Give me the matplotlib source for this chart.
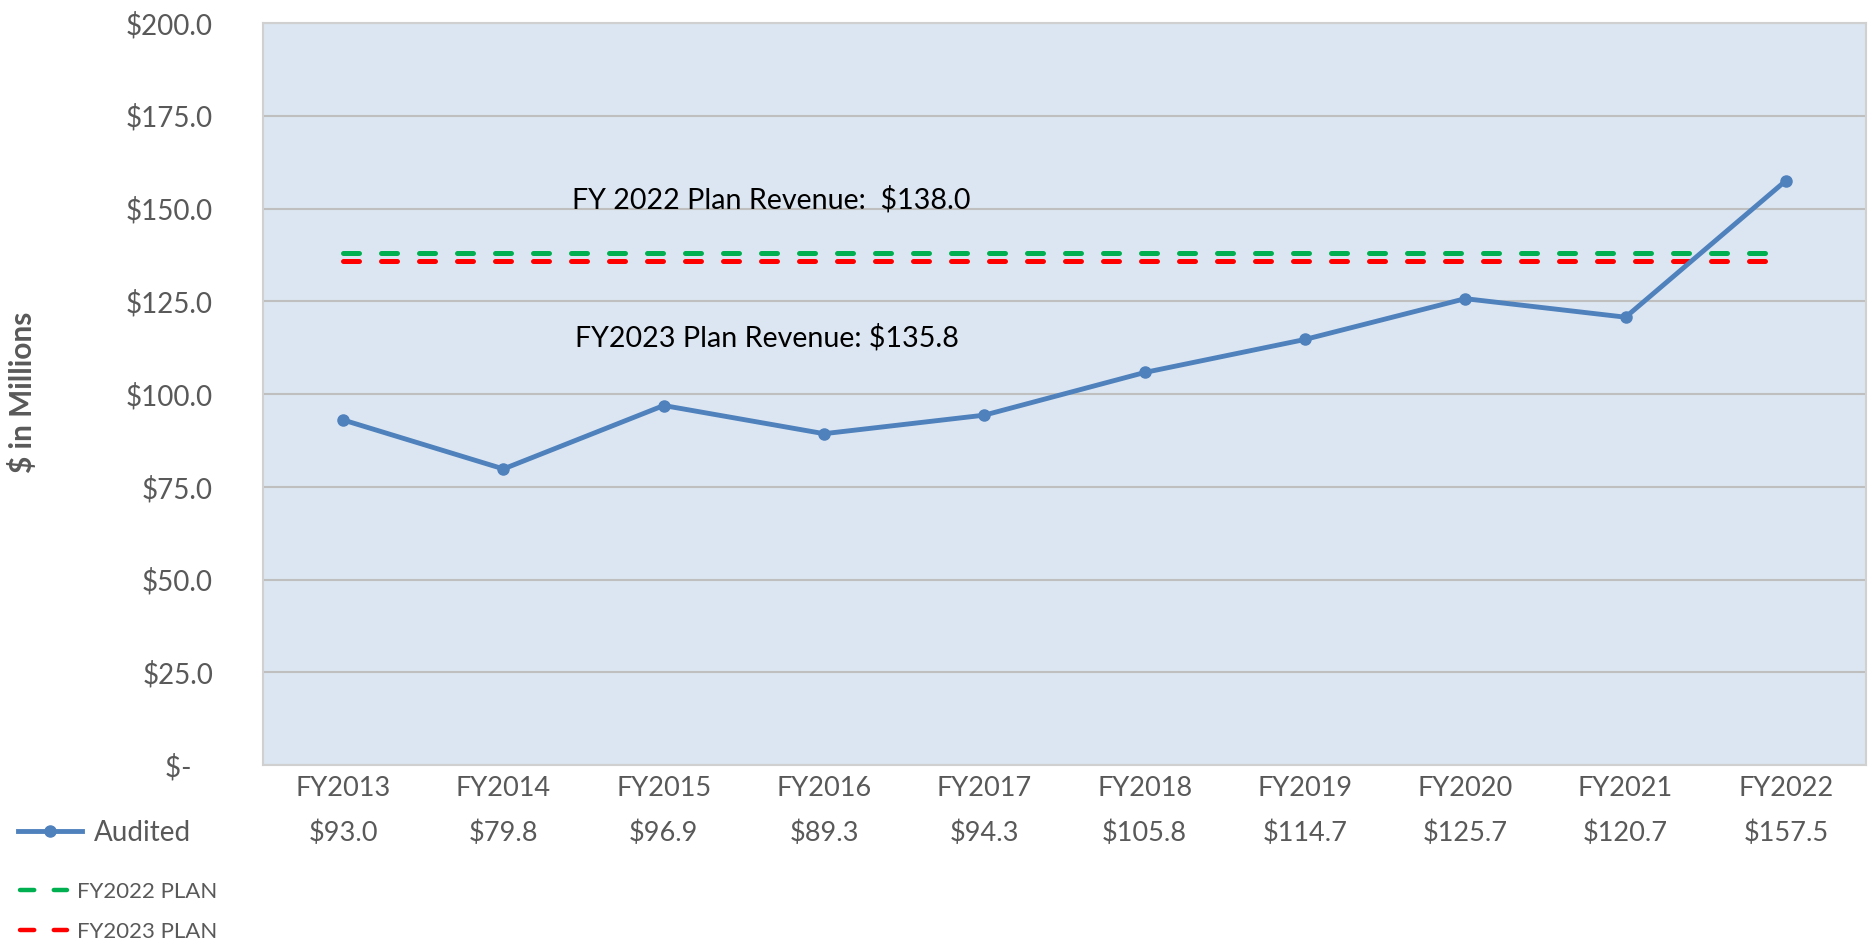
import numpy as np
import matplotlib.pyplot as plt
from matplotlib.lines import Line2D

plt.rcParams['font.family'] = ['Lato', 'DejaVu Sans']

years = ['FY2013', 'FY2014', 'FY2015', 'FY2016', 'FY2017',
         'FY2018', 'FY2019', 'FY2020', 'FY2021', 'FY2022']
audited = [93.0, 79.8, 96.9, 89.3, 94.3, 105.8, 114.7, 125.7, 120.7, 157.5]
plan_2022 = 138.0
plan_2023 = 135.8
yticks = [0, 25, 50, 75, 100, 125, 150, 175, 200]
ylabels = ['$-   ', '$25.0', '$50.0', '$75.0', '$100.0', '$125.0', '$150.0', '$175.0', '$200.0']

blue = '#4F81BD'
green = '#00B050'
red = '#FF0000'
gray_txt = '#595959'
dash = (3.2, 4.4)

W, H = 1868, 944
fig = plt.figure(figsize=(W / 100, H / 100), dpi=100)
ax = fig.add_axes([263 / W, 1 - 765 / H, 1603 / W, 742 / H])
ax.set_facecolor('#DCE6F2')

x = np.arange(len(years)) + 0.5
ax.plot([x[0], x[-1]], [plan_2022, plan_2022], color=green, lw=3.6,
        dashes=dash, dash_capstyle='round', zorder=3)
ax.plot([x[0], x[-1]], [plan_2023, plan_2023], color=red, lw=3.6,
        dashes=dash, dash_capstyle='round', zorder=3)
ax.plot(x, audited, color=blue, lw=3.5, marker='o', markersize=8, zorder=4)

ax.set_xlim(0, 10)
ax.set_ylim(0, 200)
ax.set_yticks(yticks)
ax.set_yticklabels(ylabels)
ax.set_xticks([])
ax.grid(axis='y', color='#BFBFBF', lw=1.5)
ax.set_axisbelow(True)
for s in ax.spines.values():
    s.set_color('#D0D0D0')
    s.set_linewidth(1.5)
ax.tick_params(axis='y', length=0, pad=36, labelsize=20, labelcolor=gray_txt)

# category labels with values below
for xi, yr, v in zip(x, years, audited):
    ax.text(xi, -0.0323, yr, transform=ax.get_xaxis_transform(), ha='center',
            va='center', fontsize=19.5, color=gray_txt)
    ax.text(xi, -0.0916, '$%.1f' % v, transform=ax.get_xaxis_transform(), ha='center',
            va='center', fontsize=19.5, color=gray_txt)

ax.text(1.93, 150.1, 'FY 2022 Plan Revenue:  $%.1f' % plan_2022, fontsize=20.6,
        color='black', ha='left', va='baseline')
ax.text(1.946, 112.7, 'FY2023 Plan Revenue: $%.1f' % plan_2023, fontsize=20.6,
        color='black', ha='left', va='baseline')

fig.text(23 / W, 1 - 392 / H, '$ in Millions', rotation=90, fontsize=21.5,
         fontweight='bold', color=gray_txt, ha='center', va='center')

h1 = [Line2D([], [], color=blue, lw=3.5, marker='o', markersize=8)]
leg1 = fig.legend(h1, ['Audited'], loc='center left', bbox_to_anchor=(18 / W, 1 - 833 / H),
                  frameon=False, fontsize=20, handlelength=2.3, handletextpad=0.45,
                  borderpad=0, borderaxespad=0)
for t in leg1.get_texts():
    t.set_color(gray_txt)

h2 = [Line2D([], [], color=green, lw=3.2, dashes=dash, dash_capstyle='round'),
      Line2D([], [], color=red, lw=3.2, dashes=dash, dash_capstyle='round')]
leg2 = fig.legend(h2, ['FY2022 PLAN', 'FY2023 PLAN'], loc='upper left',
                  bbox_to_anchor=(20 / W, 1 - 882 / H), frameon=False, fontsize=16,
                  handlelength=2.1, handletextpad=0.45, labelspacing=0.88,
                  borderpad=0, borderaxespad=0)
for t in leg2.get_texts():
    t.set_color(gray_txt)

fig.savefig('out.png', dpi=100)
